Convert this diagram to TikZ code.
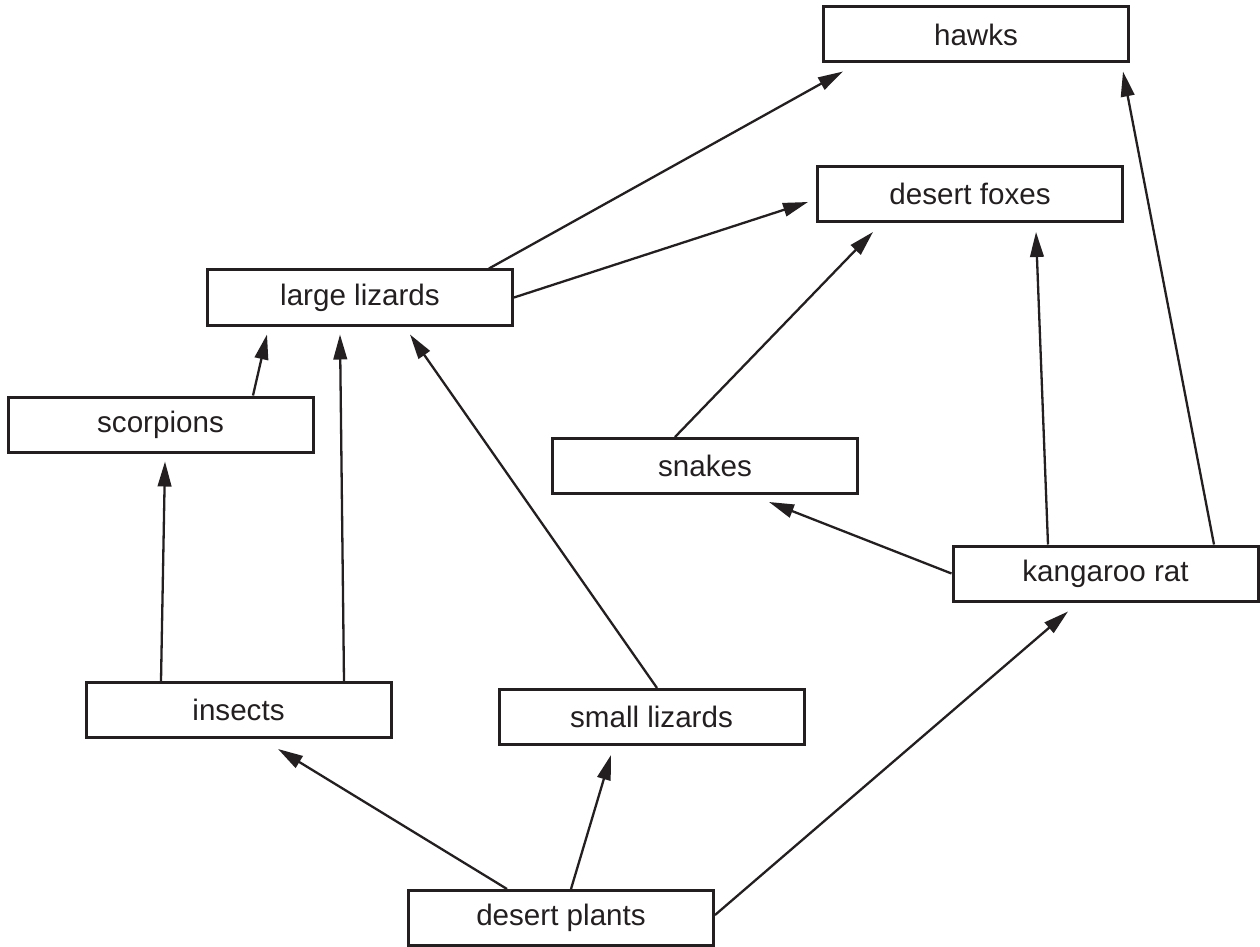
\documentclass[tikz,border=0pt]{standalone}
\usepackage{fontspec}
\setmainfont{Liberation Sans}
\usepackage{tikz}
\usetikzlibrary{shapes,arrows.meta}
\definecolor{ink}{HTML}{231F20}

\begin{document}
\begin{tikzpicture}[x=0.5pt,y=-0.5pt]
				\tikzstyle{common} = [draw=ink, text=ink, text badly centered, inner sep=0.3em, line width=1.5pt]
				\tikzstyle{block} = [rectangle, common, minimum width=152.5pt, minimum height=27.5pt, font=\fontsize{14.8}{17}\selectfont]
				\tikzstyle{line} = [draw=ink, line width=1.15pt, -{Triangle[length=12.5pt,width=6.8pt]}]
				\useasboundingbox (0,0) rectangle (1260,947);
				\node[block] (hawks) at (976,34.5) {hawks};
				\node[block] (foxes) at (970,194) {desert foxes};
				\node[block] (largeliz) at (360,297.5) {large lizards};
				\node[block] (scorp) at (160.5,424.5) {scorpions};
				\node[block] (snakes) at (705,466) {snakes};
				\node[block] (krat) at (1105.5,573.5) {kangaroo rat};
				\node[block] (insects) at (238.5,710) {insects};
				\node[block] (smallliz) at (651.5,717) {small lizards};
				\node[block] (plants) at (561,918) {desert plants};

				\draw[line] ([xshift=-27pt]plants.north) -- ([xshift=19.75pt,yshift=-5pt]insects.south);
				\draw[line] ([xshift=5pt]plants.north) -- ([xshift=-20.25pt,yshift=-4.5pt]smallliz.south);
				\draw[line] ([yshift=1.5pt]plants.east) -- ([xshift=-18.75pt,yshift=-4.5pt]krat.south);
				\draw[line] ([xshift=-38.75pt]insects.north) -- ([xshift=2.25pt,yshift=-4pt]scorp.south);
				\draw[line] ([xshift=52.75pt]insects.north) -- ([xshift=-10pt,yshift=-4pt]largeliz.south);
				\draw[line] ([xshift=46.25pt]scorp.north) -- ([xshift=-46.5pt,yshift=-4pt]largeliz.south);
				\draw[line] ([xshift=2.75pt]smallliz.north) -- ([xshift=25pt,yshift=-4pt]largeliz.south);
				\draw[line] ([xshift=64.5pt]largeliz.north) -- ([xshift=-66.5pt,yshift=-4pt]hawks.south);
				\draw[line] (largeliz.east) -- ([xshift=-4pt,yshift=-4pt]foxes.west);
				\draw[line] ([xshift=-15pt]snakes.north) -- ([xshift=-48.5pt,yshift=-4.5pt]foxes.south);
				\draw[line] (krat.west) -- ([xshift=32pt,yshift=-3.5pt]snakes.south);
				\draw[line] ([xshift=-28.75pt]krat.north) -- ([xshift=33pt,yshift=-4.5pt]foxes.south);
				\draw[line] ([xshift=54.25pt]krat.north) -- ([xshift=73.5pt,yshift=-4pt]hawks.south);
\end{tikzpicture}
\end{document}
